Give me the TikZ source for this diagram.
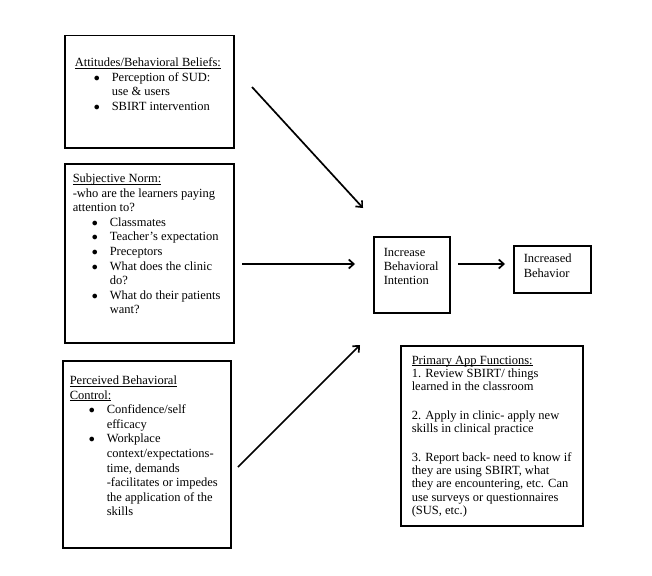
\documentclass[tikz,border=0pt]{standalone}
\usepackage{fontspec}
\setmainfont{Liberation Serif}
\usetikzlibrary{positioning,arrows.meta}

% bullet line with hanging indent
\newcommand{\bitem}[1]{\par\hangindent=37pt\hangafter=1\noindent\hspace*{19pt}\makebox[18pt][l]{$\bullet$}#1}
% underline close to the baseline
\newcommand{\uln}[1]{\underline{\smash{#1}}\vphantom{#1}}
% text block, top aligned, width #1, height #2
\newcommand{\boxtext}[3]{\makebox[#1pt][l]{\parbox[c][#2pt][t]{\dimexpr#1pt+40pt\relax}{\setlength{\parskip}{0pt}\raggedright #3}}}

\begin{document}
\begin{tikzpicture}[x=1pt,y=-1pt,
  >={Straight Barb[length=5pt,width=9pt]},
  box/.style={draw, line width=1.5pt, anchor=north west, inner sep=0pt},
  arr/.style={->, line width=1.7pt},
  txt/.style={font=\fontsize{12.5}{14.6}\selectfont}]
  \useasboundingbox (0,0) rectangle (652,575);

  % left column
  \node[box, txt, minimum width=169pt, minimum height=112pt] (att) at (64,35)
    {\boxtext{149}{68}{\uln{Attitudes/Behavioral Beliefs:}
     \bitem{Perception of SUD:\newline use \& users}
     \bitem{SBIRT intervention}}};

  \node[box, txt, minimum width=169pt, minimum height=179pt] (norm) at (64,163)
    {\boxtext{153}{159}{\uln{Subjective Norm:}\\-who are the learners paying\\attention to?
     \bitem{Classmates}
     \bitem{Teacher’s expectation}
     \bitem{Preceptors}
     \bitem{What does the clinic\newline do?}
     \bitem{What do their patients\newline want?}}};

  \node[box, txt, minimum width=168pt, minimum height=187pt] (pbc) at (62,360)
    {\boxtext{154}{157}{\uln{Perceived Behavioral}\\\uln{Control:}
     \bitem{Confidence/self\newline efficacy}
     \bitem{Workplace\newline context/expectations-\newline time, demands\newline -facilitates or impedes\newline the application of the\newline skills}}};

  % right side
  \node[box, font=\fontsize{12.5}{14}\selectfont, minimum width=76pt, minimum height=76pt] (int) at (373,236)
    {\boxtext{56}{52}{Increase\\Behavioral\\Intention}};

  \node[box, txt, minimum width=77pt, minimum height=47pt] (beh) at (513,245)
    {\boxtext{57}{31}{Increased\\Behavior}};

  \node[box, font=\fontsize{12.5}{13.4}\selectfont, minimum width=182pt, minimum height=180pt] (app) at (400,345)
    {\boxtext{160}{160}{\uln{Primary App Functions:}\\1. Review SBIRT/ things\\learned in the classroom\\[15pt]2. Apply in clinic- apply new\\skills in clinical practice\\[15pt]3. Report back- need to know if\\they are using SBIRT, what\\they are encountering, etc. Can\\use surveys or questionnaires\\(SUS, etc.)}};

  % arrow ends
  \coordinate (attout) at (252,87);
  \coordinate (attin) at (363,208);
  \coordinate (normout) at (242,264);
  \coordinate (normin) at (355,264);
  \coordinate (pbcout) at (238,467);
  \coordinate (pbcin) at (360,345);
  \coordinate (intout) at (458,264);
  \coordinate (behin) at (505,264);

  \draw[arr] (attout) -- (attin);
  \draw[arr] (normout) -- (normin);
  \draw[arr] (pbcout) -- (pbcin);
  \draw[arr] (intout) -- (behin);
\end{tikzpicture}
\end{document}
